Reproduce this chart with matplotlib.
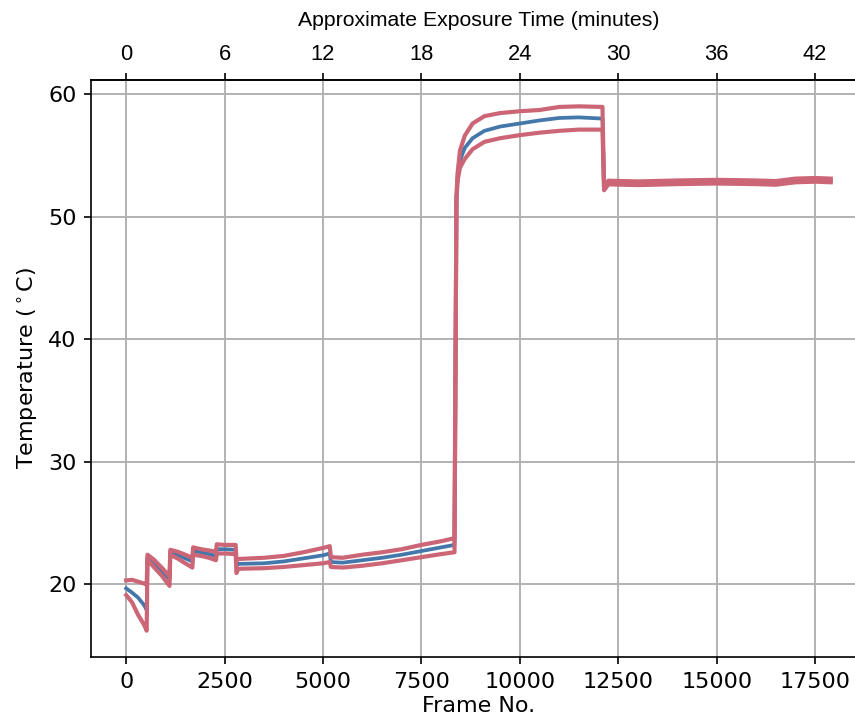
import matplotlib
matplotlib.use("Agg")
import matplotlib.pyplot as plt

# -------------------------------------------------------------
# Data
# -------------------------------------------------------------
frames = [0, 150, 300, 450, 520,
          540, 700, 900, 1100,
          1120, 1300, 1500, 1680,
          1700, 1900, 2100, 2280,
          2300, 2500, 2780,
          2800, 2850, 3500, 4000, 4500, 5000, 5170,
          5200, 5500, 6000, 6500, 7000, 7500, 8000, 8340,
          8390, 8420, 8480, 8600, 8800, 9100, 9500, 10000, 10500, 11000, 11500, 12100,
          12140, 12250, 13000, 14000, 15000, 16000, 16500, 17000, 17500, 17900]

temp_mean = [19.65, 19.3, 18.9, 18.3, 17.9,
             22.2, 21.7, 21.1, 20.4,
             22.6, 22.4, 22.1, 21.85,
             22.7, 22.6, 22.45, 22.3,
             22.85, 22.85, 22.8,
             21.5, 21.65, 21.7, 21.85, 22.1, 22.35, 22.5,
             21.8, 21.75, 21.95, 22.15, 22.4, 22.7, 23.0, 23.2,
             51.5, 53.3, 54.6, 55.6, 56.4, 57.0, 57.35, 57.6, 57.85, 58.05, 58.1, 58.0,
             52.3, 52.78, 52.72, 52.8, 52.85, 52.8, 52.75, 52.95, 53.0, 52.95]

temp_upper = [20.3, 20.35, 20.2, 20.05, 19.95,
              22.4, 22.0, 21.35, 20.65,
              22.8, 22.65, 22.4, 22.15,
              23.0, 22.85, 22.75, 22.65,
              23.25, 23.2, 23.2,
              21.9, 22.05, 22.15, 22.3, 22.6, 22.95, 23.1,
              22.2, 22.15, 22.4, 22.6, 22.85, 23.2, 23.5, 23.75,
              51.7, 53.6, 55.4, 56.6, 57.6, 58.2, 58.45, 58.6, 58.7, 58.95, 59.0, 58.95,
              52.45, 52.93, 52.87, 52.95, 53.0, 52.95, 52.9, 53.1, 53.15, 53.1]

temp_lower = [19.1, 18.5, 17.5, 16.7, 16.2,
              22.0, 21.4, 20.7, 19.85,
              22.4, 22.1, 21.7, 21.35,
              22.4, 22.3, 22.15, 21.95,
              22.5, 22.5, 22.45,
              20.9, 21.25, 21.3, 21.4, 21.55, 21.7, 21.8,
              21.4, 21.35, 21.5, 21.7, 21.95, 22.2, 22.45, 22.6,
              51.3, 53.0, 54.0, 54.7, 55.5, 56.1, 56.4, 56.65, 56.85, 57.0, 57.1, 57.1,
              52.15, 52.63, 52.57, 52.65, 52.7, 52.65, 52.6, 52.8, 52.85, 52.8]

minute_ticks = [0, 6, 12, 18, 24, 30, 36, 42]
frames_per_minute = 2500 / 6

# -------------------------------------------------------------
# Plot
# -------------------------------------------------------------
plt.rcParams['font.size'] = 10.7

fig = plt.figure(figsize=(5.7, 724 / 150), dpi=150)
ax = fig.add_axes([91 / 855, 67 / 724, 775 / 855, 577 / 724])

ax.plot(frames, temp_mean, color='#4477AA', lw=1.8, zorder=3)
ax.plot(frames, temp_upper, color='#CC6677', lw=2.0, zorder=4)
ax.plot(frames, temp_lower, color='#CC6677', lw=2.0, zorder=4)

ax.set_xlim(-895, 18795)
ax.set_ylim(14.05, 61.15)
ax.set_yticks([20, 30, 40, 50, 60])
ax.set_xticks([0, 2500, 5000, 7500, 10000, 12500, 15000, 17500])
ax.grid(True, color='#b0b0b0', lw=0.9)
ax.set_axisbelow(True)
ax.set_xlabel('Frame No.', labelpad=2)
ax.set_ylabel(r'Temperature ($^\circ$C)')

secax = ax.secondary_xaxis('top', functions=(lambda f: f / frames_per_minute,
                                             lambda m: m * frames_per_minute))
secax.set_xticks(minute_ticks)
secax.tick_params(labelsize=10.5)
for lbl in secax.get_xticklabels():
    lbl.set_fontfamily('Liberation Sans')
secax.set_xlabel('Approximate Exposure Time (minutes)', fontfamily='Liberation Sans',
                 fontsize=10.2, labelpad=9)

fig.savefig('out.png', dpi=150)
